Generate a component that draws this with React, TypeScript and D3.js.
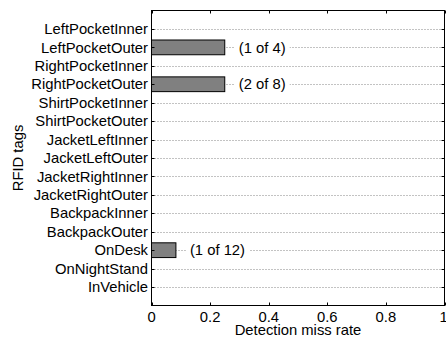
import { useEffect, useRef } from 'react';
import * as d3 from 'd3';

const tags = [
    'LeftPocketInner', 'LeftPocketOuter', 'RightPocketInner', 'RightPocketOuter',
    'ShirtPocketInner', 'ShirtPocketOuter', 'JacketLeftInner', 'JacketLeftOuter',
    'JacketRightInner', 'JacketRightOuter', 'BackpackInner', 'BackpackOuter',
    'OnDesk', 'OnNightStand', 'InVehicle',
];
const misses = [0, 1, 0, 2, 0, 0, 0, 0, 0, 0, 0, 0, 1, 0, 0];
const totals = [0, 4, 0, 8, 0, 0, 0, 0, 0, 0, 0, 0, 12, 0, 0];
const xTicks = [0, 0.2, 0.4, 0.6, 0.8, 1];

export default function App() {
    const svgRef = useRef<SVGSVGElement>(null);

    useEffect(() => {
        if (!svgRef.current) return;
        const svg = d3.select(svgRef.current);
        svg.selectAll('*').remove();

        const left = 151.5, right = 444.5, top = 10.5, bottom = 305.5;
        const font = 'Liberation Sans, Arial, Helvetica, sans-serif';
        const fs = 14.8;

        const x = d3.scaleLinear().domain([0, 1]).range([left, right]);
        // categories sit at 1..15 on a 0..16 axis, first one at the top
        const y = d3.scaleLinear().domain([0, tags.length + 1]).range([top, bottom]);
        const step = y(1) - y(0);
        const barH = step * 0.8;

        const g = svg.append('g');

        // dotted horizontal grid
        g.selectAll('line.grid')
            .data(tags)
            .enter()
            .append('line')
            .attr('x1', left)
            .attr('x2', right)
            .attr('y1', (_, i) => Math.round(y(i + 1)) + 0.5)
            .attr('y2', (_, i) => Math.round(y(i + 1)) + 0.5)
            .attr('stroke', '#555')
            .attr('stroke-width', 0.7)
            .attr('stroke-dasharray', '1,2');

        const rates = misses.map((m, i) => (totals[i] ? m / totals[i] : 0));

        // bars + count labels
        rates.forEach((r, i) => {
            if (r <= 0) return;
            const cy = y(i + 1);
            g.append('rect')
                .attr('x', x(0))
                .attr('y', cy - barH / 2)
                .attr('width', x(r) - x(0))
                .attr('height', barH)
                .attr('fill', '#808080')
                .attr('stroke', '#000')
                .attr('stroke-width', 1);

            const label = `(${misses[i]} of ${totals[i]})`;
            const t = g.append('text')
                .attr('x', x(r) + 14)
                .attr('y', cy)
                .attr('dy', '0.35em')
                .attr('font-family', font)
                .attr('font-size', fs)
                .attr('fill', '#000')
                .text(label);
            const bb = (t.node() as SVGTextElement).getBBox();
            g.insert('rect', () => t.node())
                .attr('x', bb.x - 4)
                .attr('y', bb.y)
                .attr('width', bb.width + 8)
                .attr('height', bb.height)
                .attr('fill', '#fff');
        });

        // box
        g.append('rect')
            .attr('x', left)
            .attr('y', top)
            .attr('width', right - left)
            .attr('height', bottom - top)
            .attr('fill', 'none')
            .attr('stroke', '#000')
            .attr('stroke-width', 1);

        // x ticks (inward, top and bottom)
        xTicks.forEach(v => {
            const px = Math.round(x(v)) + 0.5;
            g.append('line').attr('x1', px).attr('x2', px).attr('y1', bottom).attr('y2', bottom - 3).attr('stroke', '#000');
            g.append('line').attr('x1', px).attr('x2', px).attr('y1', top).attr('y2', top + 3).attr('stroke', '#000');
            g.append('text')
                .attr('x', v === 1 ? x(v) - 1 : x(v))
                .attr('y', 322)
                .attr('text-anchor', 'middle')
                .attr('font-family', font)
                .attr('font-size', fs)
                .text(d3.format('~g')(v));
        });

        // y ticks and labels
        tags.forEach((tag, i) => {
            const py = Math.round(y(i + 1)) + 0.5;
            g.append('line').attr('x1', left).attr('x2', left + 3).attr('y1', py).attr('y2', py).attr('stroke', '#000');
            g.append('line').attr('x1', right).attr('x2', right - 3).attr('y1', py).attr('y2', py).attr('stroke', '#000');
            g.append('text')
                .attr('x', left - 3.5)
                .attr('y', y(i + 1))
                .attr('dy', '0.35em')
                .attr('text-anchor', 'end')
                .attr('font-family', font)
                .attr('font-size', fs)
                .text(tag);
        });

        // axis titles
        g.append('text')
            .attr('x', (left + right) / 2)
            .attr('y', 335)
            .attr('text-anchor', 'middle')
            .attr('font-family', font)
            .attr('font-size', fs)
            .text('Detection miss rate');

        g.append('text')
            .attr('transform', `translate(23,${(top + bottom) / 2}) rotate(-90)`)
            .attr('text-anchor', 'middle')
            .attr('font-family', font)
            .attr('font-size', fs)
            .text('RFID tags');
    }, []);

    return (
        <div style={{ position: 'absolute', left: 0, top: 0 }}>
            <svg ref={svgRef} width={446} height={338} style={{ display: 'block', background: '#fff' }} />
        </div>
    );
}
